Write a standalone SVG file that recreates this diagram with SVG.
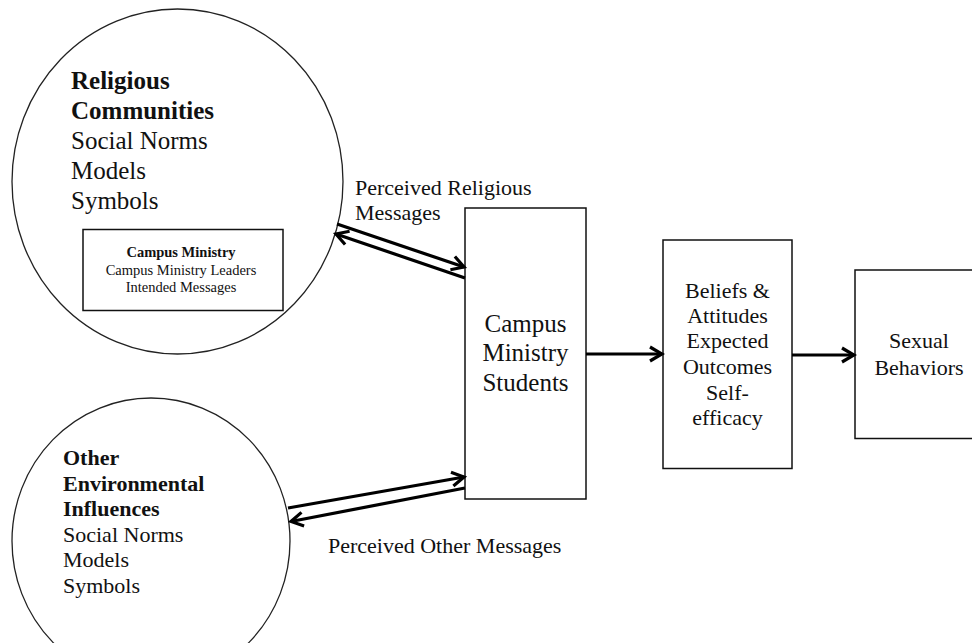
<svg xmlns="http://www.w3.org/2000/svg" width="972" height="643" viewBox="0 0 972 643">
<style>
text{font-family:"Liberation Serif","Times New Roman",serif;fill:#111}
.b{font-weight:bold}
.shape{fill:#fff;stroke:#111;stroke-width:1.5}
.ell{fill:#fff;stroke:#222;stroke-width:1.3}
.arr{stroke:#000;stroke-width:3.2;fill:none}
</style>
<defs>
<marker id="ah" markerUnits="userSpaceOnUse" markerWidth="18" markerHeight="18" refX="15" refY="9" orient="auto" viewBox="0 0 18 18">
<path d="M3,2 L15,9 L3,16" fill="none" stroke="#000" stroke-width="3.2"/>
</marker>
</defs>
<rect width="972" height="643" fill="#fff"/>
<g id="religious-communities">
<ellipse class="ell" cx="177.5" cy="181.5" rx="165.5" ry="172.5"/>
<text x="71" y="89" font-size="25" class="b">Religious</text>
<text x="71" y="119" font-size="25" class="b">Communities</text>
<text x="71" y="149" font-size="25">Social Norms</text>
<text x="71" y="179" font-size="25">Models</text>
<text x="71" y="209" font-size="25">Symbols</text>
</g>
<g id="campus-ministry">
<rect class="shape" x="83" y="229.5" width="200" height="81"/>
<text x="181" y="257" font-size="14.5" text-anchor="middle" class="b">Campus Ministry</text>
<text x="181" y="274.5" font-size="14.5" text-anchor="middle">Campus Ministry Leaders</text>
<text x="181" y="292" font-size="14.5" text-anchor="middle">Intended Messages</text>
</g>
<g id="other-environmental">
<ellipse class="ell" cx="151" cy="541" rx="139" ry="143"/>
<text x="63" y="465" font-size="22" class="b">Other</text>
<text x="63" y="491" font-size="22" class="b">Environmental</text>
<text x="63" y="516" font-size="22" class="b">Influences</text>
<text x="63" y="542" font-size="22">Social Norms</text>
<text x="63" y="567" font-size="22">Models</text>
<text x="63" y="593" font-size="22">Symbols</text>
</g>
<g id="students">
<rect class="shape" x="465" y="208" width="121" height="291"/>
<text x="525.5" y="332" font-size="25" text-anchor="middle">Campus</text>
<text x="525.5" y="361" font-size="25" text-anchor="middle">Ministry</text>
<text x="525.5" y="391" font-size="25" text-anchor="middle">Students</text>
</g>
<g id="beliefs">
<rect class="shape" x="663" y="240" width="129" height="228.5"/>
<text x="727.5" y="298" font-size="22" text-anchor="middle">Beliefs &amp;</text>
<text x="727.5" y="323" font-size="22" text-anchor="middle">Attitudes</text>
<text x="727.5" y="348" font-size="22" text-anchor="middle">Expected</text>
<text x="727.5" y="374" font-size="22" text-anchor="middle">Outcomes</text>
<text x="727.5" y="400" font-size="22" text-anchor="middle">Self-</text>
<text x="727.5" y="425" font-size="22" text-anchor="middle">efficacy</text>
</g>
<g id="sexual-behaviors">
<rect class="shape" x="855" y="270" width="130" height="168.5"/>
<text x="919" y="348" font-size="22" text-anchor="middle">Sexual</text>
<text x="919" y="375" font-size="22" text-anchor="middle">Behaviors</text>
</g>
<g id="labels">
<text x="355" y="195" font-size="22">Perceived Religious</text>
<text x="355" y="220" font-size="22">Messages</text>
<text x="328" y="553" font-size="22">Perceived Other Messages</text>
</g>
<g id="connectors">
<line class="arr" x1="337" y1="224" x2="464" y2="267" marker-end="url(#ah)"/>
<line class="arr" x1="465" y1="278" x2="336" y2="234" marker-end="url(#ah)"/>
<line class="arr" x1="288" y1="508" x2="464" y2="477" marker-end="url(#ah)"/>
<line class="arr" x1="465" y1="488" x2="291" y2="521.5" marker-end="url(#ah)"/>
<line class="arr" x1="586" y1="354" x2="662" y2="354" marker-end="url(#ah)"/>
<line class="arr" x1="792" y1="355" x2="854" y2="355" marker-end="url(#ah)"/>
</g>
</svg>
